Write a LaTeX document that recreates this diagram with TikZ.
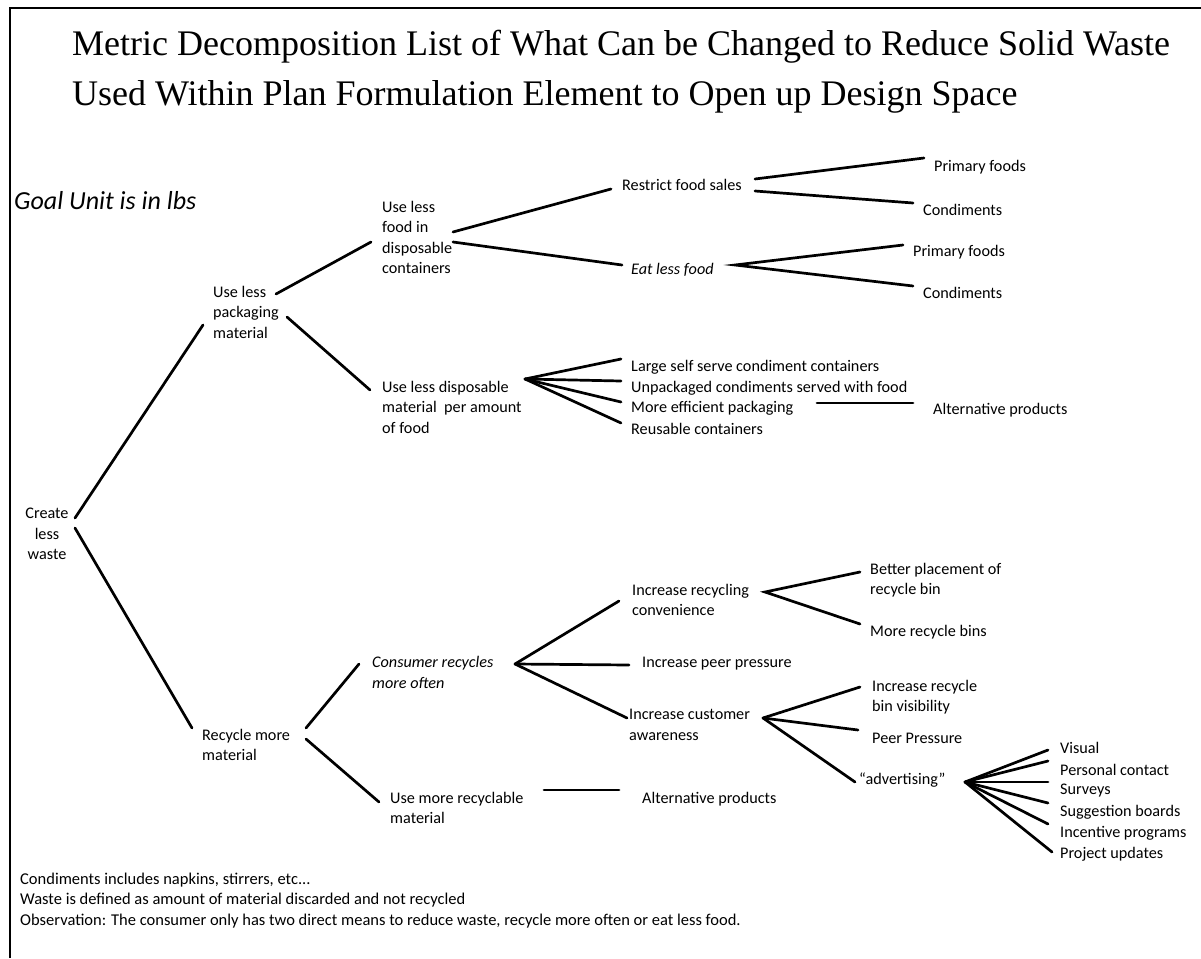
\documentclass[tikz,border=0pt]{standalone}
\usepackage{fontspec}
\setmainfont{Carlito}
\newfontfamily\titlefont{Liberation Serif}

\tikzset{
  frame/.style={line width=2.2pt},
  link/.style={line width=2.7pt, line cap=round},
  lbl/.style={inner sep=0pt, anchor=west, align=left, font=\fontsize{16.2}{20.5}\selectfont},
  ilbl/.style={lbl, font=\fontsize{16.2}{20.5}\selectfont\itshape},
  titl/.style={inner sep=0pt, anchor=west, font=\titlefont\fontsize{36}{40}\selectfont},
  note/.style={inner sep=0pt, anchor=west, font=\fontsize{16.5}{20}\selectfont},
}

\begin{document}
\begin{tikzpicture}[x=1pt,y=-1pt]
\useasboundingbox (0,0) rectangle (1201,958);
\draw[frame] (10,958) -- (10,8) -- (1201,8);

% heading
\node[titl] (t1) at (72,47) {Metric Decomposition List of What Can be Changed to Reduce Solid Waste};
\node[titl] (t2) at (72,97) {Used Within Plan Formulation Element to Open up Design Space};
\node[inner sep=0pt, anchor=west, font=\fontsize{26}{29}\selectfont\itshape] (goal) at (14,201) {Goal Unit is in lbs};

% tree labels
\node[lbl, align=center, anchor=center] (create) at (47,534) {Create\\less\\waste};
\node[lbl] (pack) at (213,312) {Use less\\packaging\\material};
\node[lbl] (food) at (382,237.5) {Use less\\food in\\disposable\\containers};
\node[lbl] (disp) at (382,407) {Use less disposable\\material\ \ per amount\\of food};
\node[lbl] (restrict) at (622,185) {Restrict food sales};
\node[ilbl] (eat) at (631,270) {Eat less food};
\node[lbl] (pf1) at (934,167) {Primary foods};
\node[lbl] (cd1) at (923,210) {Condiments};
\node[lbl] (pf2) at (913,252) {Primary foods};
\node[lbl] (cd2) at (923,293) {Condiments};
\node[lbl] (large) at (631,367) {Large self serve condiment containers};
\node[lbl] (unpack) at (631,388) {Unpackaged condiments served with food};
\node[lbl] (moreeff) at (631,408) {More efficient packaging};
\node[lbl] (reuse) at (631,429) {Reusable containers};
\node[lbl] (alt1) at (933,410) {Alternative products};

\node[lbl] (recycle) at (202,745) {Recycle more\\material};
\node[ilbl] (consumer) at (372,672.5) {Consumer recycles\\more often};
\node[lbl] (usemore) at (390,808) {Use more recyclable\\material};
\node[lbl] (alt2) at (642,799) {Alternative products};
\node[lbl] (conv) at (632,600) {Increase recycling\\convenience};
\node[lbl] (peer) at (642,664) {Increase peer pressure};
\node[lbl] (aware) at (629,725) {Increase customer\\awareness};
\node[lbl] (better) at (870,580) {Better placement of\\recycle bin};
\node[lbl] (morebins) at (870,632) {More recycle bins};
\node[lbl] (vis) at (872,697) {Increase recycle\\bin visibility};
\node[lbl] (pp) at (872,738) {Peer Pressure};
\node[lbl] (adv) at (859,780) {“advertising”};
\node[lbl] (visual) at (1060,748) {Visual};
\node[lbl] (personal) at (1060,770) {Personal contact};
\node[lbl] (surveys) at (1060,791) {Surveys};
\node[lbl] (sugg) at (1060,812) {Suggestion boards};
\node[lbl] (incent) at (1060,833) {Incentive programs};
\node[lbl] (proj) at (1060,854) {Project updates};

% notes
\node[note] (n1) at (20,880) {Condiments includes napkins, stirrers, etc...};
\node[note] (n2) at (20,900) {Waste is defined as amount of material discarded and not recycled};
\node[note] (n3) at (20,921) {Observation: The consumer only has two direct means to reduce waste, recycle more often or eat less food.};

% connectors
\draw[link] ([xshift=28pt,yshift=16pt]create.center) -- ([xshift=-10pt,yshift=-13pt]pack.west);
\draw[link] ([xshift=28pt,yshift=6pt]create.center) -- ([xshift=-10pt,yshift=17pt]recycle.west);

\draw[link] ([xshift=63pt,yshift=18pt]pack.west) -- ([xshift=-11pt,yshift=-4.5pt]food.west);
\draw[link] ([xshift=74pt,yshift=-5pt]pack.west) -- ([xshift=-12pt,yshift=17pt]disp.west);

\draw[link] ([xshift=71pt,yshift=5.5pt]food.west) -- ([xshift=-11pt,yshift=-4pt]restrict.west);
\draw[link] ([xshift=71pt,yshift=-4.5pt]food.west) -- ([xshift=-9pt,yshift=5pt]eat.west);

\draw[link] ([xshift=133pt,yshift=6pt]restrict.west) -- ([xshift=-10pt,yshift=9pt]pf1.west);
\draw[link] ([xshift=133pt,yshift=-6pt]restrict.west) -- ([xshift=-10pt,yshift=7pt]cd1.west);

\draw[link] ([xshift=-10pt,yshift=7pt]pf2.west) -- ([xshift=104pt,yshift=5pt]eat.west) -- ([xshift=-10pt,yshift=7pt]cd2.west);

\draw[link] ([xshift=143pt,yshift=28pt]disp.west) -- ([xshift=-10pt,yshift=8pt]large.west);
\draw[link] ([xshift=143pt,yshift=28pt]disp.west) -- ([xshift=-10pt,yshift=7pt]unpack.west);
\draw[link] ([xshift=143pt,yshift=28pt]disp.west) -- ([xshift=-10pt,yshift=6pt]moreeff.west);
\draw[link] ([xshift=143pt,yshift=28pt]disp.west) -- ([xshift=-10pt,yshift=6pt]reuse.west);
\draw[link] ([xshift=186pt,yshift=5pt]moreeff.west) -- ([xshift=-20pt,yshift=7pt]alt1.west);

\draw[link] ([xshift=104pt,yshift=17pt]recycle.west) -- ([xshift=-13pt,yshift=8.5pt]consumer.west);
\draw[link] ([xshift=104pt,yshift=6pt]recycle.west) -- ([xshift=-11pt,yshift=6pt]usemore.west);
\draw[link] ([xshift=154pt,yshift=18pt]usemore.west) -- ([xshift=-23pt,yshift=9pt]alt2.west);

\draw[link] ([xshift=143pt,yshift=8.5pt]consumer.west) -- ([xshift=-13pt,yshift=-1pt]conv.west);
\draw[link] ([xshift=143pt,yshift=8.5pt]consumer.west) -- ([xshift=-13pt,yshift=-1pt]peer.west);
\draw[link] ([xshift=143pt,yshift=8.5pt]consumer.west) -- ([xshift=-2pt,yshift=7pt]aware.west);

\draw[link] ([xshift=-10pt,yshift=8pt]better.west) -- ([xshift=133pt,yshift=8pt]conv.west) -- ([xshift=-10pt,yshift=8pt]morebins.west);

\draw[link] ([xshift=134pt,yshift=7pt]aware.west) -- ([xshift=-12pt,yshift=10pt]vis.west);
\draw[link] ([xshift=134pt,yshift=7pt]aware.west) -- ([xshift=-14pt,yshift=8pt]pp.west);
\draw[link] ([xshift=134pt,yshift=7pt]aware.west) -- ([xshift=-4pt,yshift=-2pt]adv.west);

\foreach \leaf/\dy in {visual/-2, personal/9, surveys/9, sugg/9, incent/9}
  \draw[link] ([xshift=106pt,yshift=-2pt]adv.west) -- ([xshift=-12pt,yshift=\dy pt]\leaf.west);
\draw[link] ([xshift=106pt,yshift=-2pt]adv.west) -- ([xshift=-8pt,yshift=2pt]proj.west);
\end{tikzpicture}
\end{document}
